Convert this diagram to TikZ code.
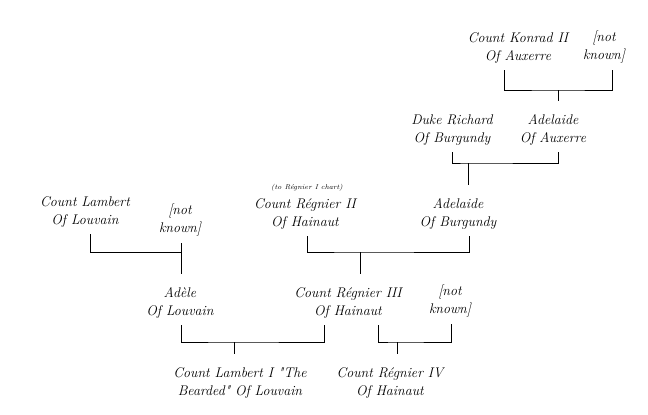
\documentclass[tikz,border=0pt]{standalone}
\begin{document}
\begin{tikzpicture}[x=1pt, y=-1pt]
% family chart, coordinates in pixels of the original (y grows downwards)
\providecommand{\famLineColor}{black}
\providecommand{\famLineWidth}{0.9pt}
\tikzset{
  person/.style={align=center, inner sep=0pt, outer sep=7pt,
    font=\fontsize{14}{17.5}\selectfont\itshape},
  remark/.style={inner sep=0pt, font=\fontsize{7}{8}\selectfont\itshape},
  famline/.style={draw=\famLineColor, line width=\famLineWidth, line cap=butt},
  drop/.style={famline, shorten >=7pt}
}
\useasboundingbox (0,0) rectangle (648,415);
% Persons
\node[person] (konrad)     at (518,48)  {Count Konrad II\\Of Auxerre};
\node[person] (unkA)       at (604,47)  {[not\\known]};
\node[person] (richard)    at (452,130) {Duke Richard\\Of Burgundy};
\node[person] (adelaideA)  at (553,130) {Adelaide\\Of Auxerre};
\node[remark] (note)       at (307,188) {(to Régnier I chart)};
\node[person] (regnierII)  at (305,214) {Count Régnier II\\Of Hainaut};
\node[person] (adelaideB)  at (458,214) {Adelaide\\Of Burgundy};
\node[person] (lambert)    at (85,212)  {Count Lambert\\Of Louvain};
\node[person] (unkB)       at (180,220) {[not\\known]};
\node[person] (adele)      at (180,303) {Adèle\\Of Louvain};
\node[person] (regnierIII) at (348,303) {Count Régnier III\\Of Hainaut};
\node[person] (unkC)       at (450,301) {[not\\known]};
\node[person] (lambertI)   at (240,383) {Count Lambert I \textquotedbl The\\Bearded\textquotedbl{} Of Louvain};
\node[person] (regnierIV)  at (390,383) {Count Régnier IV\\Of Hainaut};
% Marriage bars
\coordinate (barA) at (558,90);
\coordinate (barB) at (468,163);
\coordinate (barC) at (360,252);
\coordinate (barD) at (181,252);
\coordinate (barE) at (234,342);
\coordinate (barF) at (397,342);
\draw[famline] ([xshift=-14pt]konrad.south) |- (barA) -| ([xshift=8pt]unkA.south);
\draw[famline] (richard.south) |- (barB) -| ([xshift=5pt]adelaideA.south);
\draw[famline] ([xshift=2pt]regnierII.south) |- (barC) -| ([xshift=11pt]adelaideB.south);
\draw[famline] ([xshift=5pt]lambert.south) |- (barD) -| ([xshift=1pt]unkB.south);
\draw[famline] ([xshift=1pt]adele.south) |- (barE) -| ([xshift=-24pt]regnierIII.south);
\draw[famline] ([xshift=30pt]regnierIII.south) |- (barF) -| ([xshift=1pt]unkC.south);
% Children
\draw[drop] (barA) -- (barA |- adelaideA.north);
\draw[drop] (barB) -- (barB |- adelaideB.north);
\draw[drop] (barC) -- (barC |- regnierIII.north);
\draw[drop] (barD) -- (barD |- adele.north);
\draw[drop] (barE) -- (barE |- lambertI.north);
\draw[drop] (barF) -- (barF |- regnierIV.north);
\end{tikzpicture}
\end{document}
